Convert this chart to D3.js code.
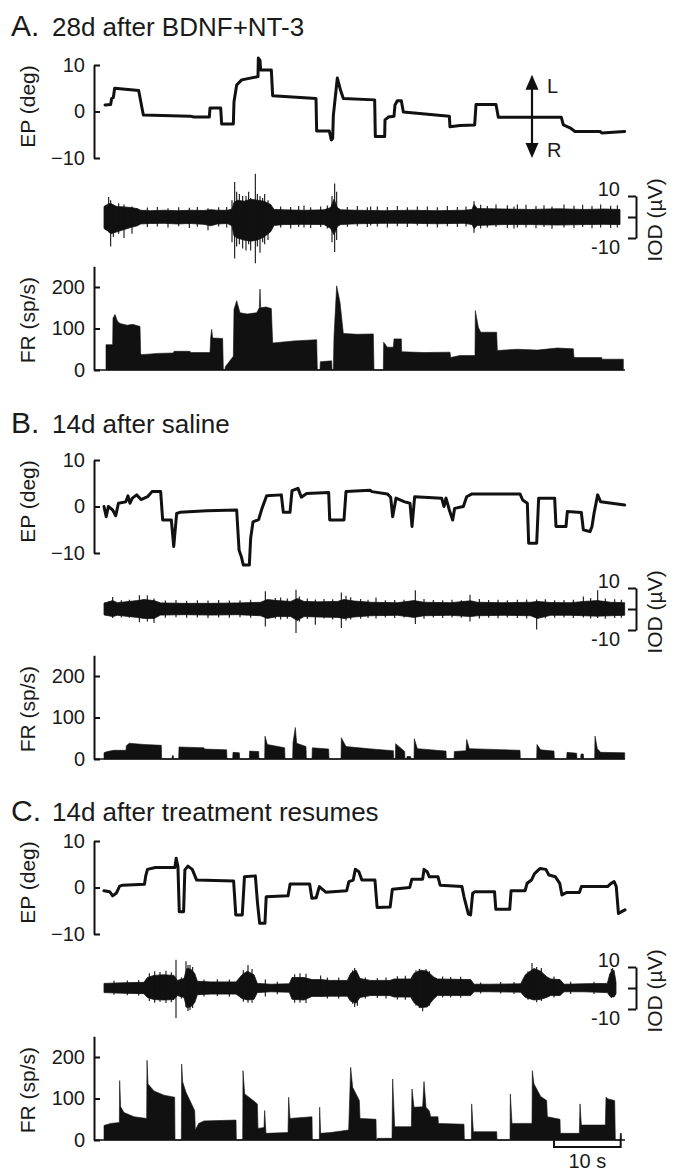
<!DOCTYPE html>
<html><head><meta charset="utf-8">
<script src="https://cdn.jsdelivr.net/npm/d3@7"></script>
<style>
html,body{margin:0;padding:0;background:#fff;}
svg{display:block;}
text{font-family:"Liberation Sans",Arial,Helvetica,sans-serif;fill:#1a1a1a;}
</style></head><body>
<svg id="chart" width="680" height="1174"></svg>
<script>
// ---------------- DATA ----------------
const panelLetters = ["A.", "B.", "C."];
const panelTitles = ["28d after BDNF+NT-3", "14d after saline", "14d after treatment resumes"];
const epTicks = [10, 0, -10];
const epTickLabels = ["10", "0", "\u221210"];
const frTicks = [200, 100, 0];
const frTickLabels = ["200", "100", "0"];
const iodTicks = [10, 0, -10];
const iodTickLabels = ["10", "", "-10"];
const axisTitles = {ep: "EP (deg)", iod: "IOD (\u00b5V)", fr: "FR (sp/s)"};
const timeLabel = "10 s";
const dirLabels = ["L", "R"];

// Eye position traces [time s, deg]
const epA = [[0.15,1.4],[1.0,1.5],[1.15,2.8],[1.4,3.0],[1.6,5.0],[5.2,4.5],[5.9,-0.75],[12.9,-1.0],[13.5,-1.2],[15.8,-1.2],[15.9,0.75],[17.5,0.75],[17.65,-2.7],[19.4,-2.7],[19.5,2.1],[19.9,5.7],[20.65,6.8],[23.1,7.5],[23.15,11.5],[23.4,11.0],[23.5,8.9],[25.1,8.9],[25.3,3.4],[31.8,2.8],[31.9,-4.2],[33.8,-4.2],[34.1,-6.1],[34.3,-5.8],[34.4,-0.9],[35.0,7.2],[35.5,4.5],[35.9,2.8],[40.6,2.5],[40.7,-5.4],[42.1,-5.4],[42.15,-1.8],[42.65,-1.2],[43.5,-1.0],[43.65,1.4],[44.0,2.3],[44.6,2.3],[44.9,-0.1],[51.8,-1.0],[51.9,-3.3],[53.4,-3.0],[55.6,-2.9],[55.8,1.5],[58.8,1.5],[59.15,-1.25],[68.6,-1.25],[68.9,-2.9],[69.9,-3.5],[70.65,-4.3],[74.4,-4.3],[74.65,-4.6],[78.1,-4.3]];
const epB = [[0,0],[0.33,-2.2],[0.65,0],[1.3,-0.75],[1.76,-2.0],[2.16,0.7],[3.27,1.0],[3.6,2.3],[3.9,0.7],[4.25,1.8],[4.9,2.5],[5.56,1.5],[6.54,2.1],[7.2,3.2],[8.5,3.2],[8.8,-2.9],[10.1,-2.9],[10.46,-8.6],[10.9,-1.5],[11.4,-1.25],[15.4,-0.9],[19.9,-0.75],[20.26,-9.4],[20.6,-10.8],[20.9,-12.6],[21.8,-12.6],[22.0,-6.8],[22.35,-3.3],[23.2,-2.8],[23.7,-0.4],[24.4,2.3],[26.6,2.5],[26.9,-1.25],[27.9,-1.25],[28.2,3.4],[29.1,3.9],[29.6,2.0],[30.4,2.8],[33.7,3.0],[33.86,-2.9],[36.0,-2.9],[36.3,3.2],[39.9,3.5],[40.2,3.2],[42.5,2.7],[43.0,2.0],[43.3,-2.2],[43.8,1.8],[45.1,1.0],[45.9,0.7],[46.2,-4.3],[46.6,2.1],[50.65,1.8],[51.0,0],[51.3,1.8],[51.8,-0.75],[52.3,-2.9],[52.6,-0.4],[53.9,0],[54.4,2.1],[55.2,2.7],[62.4,2.7],[62.8,1.4],[63.5,0.7],[63.7,-7.9],[64.9,-7.9],[65.2,1.8],[67.6,1.8],[67.8,-4.3],[69.3,-4.3],[69.5,-1.1],[71.6,-1.3],[71.9,-5.0],[72.9,-5.4],[73.2,-4.3],[73.5,-1.5],[74.05,2.5],[74.5,1.0],[78.1,0.3]];
const epC = [[0,-0.7],[0.85,-0.9],[1.3,-1.8],[1.83,-1.25],[2.35,0.3],[2.8,0.5],[6.07,0.7],[6.26,2.5],[6.52,3.9],[7.7,4.3],[10.63,4.3],[10.83,6.3],[11.09,4.5],[11.29,-5.2],[11.94,-5.2],[12.13,3.8],[12.59,4.6],[13.24,3.9],[13.9,1.6],[19.44,1.4],[19.77,-5.9],[20.74,-5.9],[21.07,2.3],[22.7,2.5],[23.03,-3.4],[23.35,-7.7],[24.14,-7.7],[24.33,-2.0],[27.6,-1.8],[27.92,0.75],[30.85,0.75],[31.18,-2.3],[31.83,-2.2],[32.3,0.2],[32.6,-0.2],[33.27,-1.0],[36.4,-0.7],[36.73,1.25],[37.38,1.6],[37.7,3.9],[38.23,3.4],[38.68,1.6],[40.64,1.6],[40.97,-4.3],[42.92,-4.2],[43.25,-0.4],[45.86,0],[46.18,1.8],[47.8,1.8],[48.0,3.9],[48.47,3.4],[48.8,2.3],[50.1,2.3],[50.42,0.5],[53.69,0.2],[54.0,-2.0],[54.66,-5.7],[54.99,-5.9],[55.3,-1.25],[55.64,-0.9],[58.58,-0.9],[58.77,-4.7],[60.86,-4.7],[61.06,-0.7],[63.15,-0.7],[63.47,0.9],[64.12,1.6],[64.58,3.0],[65.43,4.1],[66.28,3.9],[66.73,2.7],[67.71,2.3],[68.36,0.9],[68.69,-1.6],[69.34,-1.1],[71.3,-1.1],[71.62,0.2],[75.54,0.2],[76.06,0.9],[76.52,1.25],[76.84,0.2],[77.17,-5.6],[77.63,-5.2],[78.15,-4.8]];

// IOD envelope [time s, upper uV, lower uV]
const iodA = [[0,5,-5.5],[0.5,6,-6.5],[1,6.5,-8],[1.5,5.5,-7.5],[2,5,-7],[3,4.8,-6],[4,4.5,-5],[5,4,-4.2],[5.5,3.2,-3.3],[7,3,-3.1],[9,3.2,-3],[11,3,-3.3],[13,3.2,-3.1],[15,3.1,-3.5],[16,3.5,-4.2],[17,3.2,-3.3],[18.5,3.2,-3.1],[19.2,3.8,-4.2],[19.5,7,-9],[20,8,-10],[21,7.5,-11],[22,8.5,-11.5],[23,8,-11],[24,7.5,-9.5],[25,6,-7],[25.5,3.6,-4],[27,3.4,-3.6],[30,3.2,-3.5],[33,3.4,-3.6],[34,4.5,-5.5],[34.5,8.5,-8.5],[35,4.5,-4.5],[35.5,3.4,-3.6],[38,3.2,-3.2],[42,3,-3],[46,3.2,-3],[50,3,-3.2],[54,3.2,-3],[55.2,3.6,-3.6],[55.5,6,-5.5],[56,4,-4],[60,3.8,-3.6],[64,3.6,-3.6],[68,3.9,-3.8],[72,3.6,-3.6],[75,3.8,-3.5],[77.4,3.6,-3.6]];
const iodB = [[0,2.8,-2.8],[1.3,4,-3.6],[2,3,-3],[5,4,-4],[6,4.5,-4.5],[7.5,4,-4.5],[8.5,2.9,-2.9],[12,2.7,-2.7],[16,2.7,-2.9],[20,2.9,-2.7],[23.5,3.2,-3.2],[24.5,4.5,-4.5],[26,4,-3.6],[28,3.6,-3.6],[29,5,-5.5],[30,3.6,-3.6],[32,3.4,-3.8],[35,3.6,-4],[36,4.5,-4.5],[37.5,3.8,-3.8],[40,3.2,-3.2],[44,3,-3],[46.5,4,-4],[48,3.2,-3.2],[52,3,-3],[55,3.9,-3.6],[56,3.2,-3.2],[60,3,-3],[64,3.2,-3.2],[65,3.6,-4.5],[67,3.1,-3],[70,3,-3],[72,3.6,-3.2],[74,4,-3.4],[76,3.2,-3.2],[78.1,3,-3]];
const iodC = [[0,2.2,-2.2],[3,2.5,-2.5],[6,2.7,-2.7],[6.5,5,-4.5],[7.5,6,-5.5],[9,6.3,-5.7],[10.5,6,-5.5],[11,3.6,-3.6],[12,4.5,-4.5],[12.4,9.3,-9.3],[13,9,-9],[13.6,7,-7],[14,3.2,-3.2],[16,2.9,-2.9],[19.8,2.9,-2.9],[20.7,6.3,-5],[21.5,8,-5.7],[22.5,6.3,-5.4],[23,2.2,-2.2],[25,1.8,-1.8],[27.8,2,-2],[28.2,5,-5.4],[30,5,-5.7],[31.2,4,-4],[32.5,4,-4],[34,3.6,-3.9],[36.5,3.6,-3.9],[37,7,-6.3],[37.8,8.5,-7.2],[38.4,4.5,-4.5],[40,3.6,-3.6],[42.9,3.6,-3.6],[43.5,4.3,-4.3],[46,4.3,-4.3],[46.5,7,-7],[47.5,8.5,-9.3],[48.5,8,-9],[49.4,5.4,-5.4],[50,4.3,-3.6],[55,4,-3.6],[55.5,1.8,-1.8],[58,1.8,-1.8],[62.5,2,-2],[63.2,6.3,-4.5],[64.5,9.3,-5.7],[65.5,8,-5.4],[66.4,5.4,-4.5],[67,4.3,-3.6],[68.4,4,-3.6],[69,1.8,-1.8],[72,2,-1.8],[75.5,2.2,-2.2],[75.9,7,-4],[76.5,8.5,-4.3],[76.8,2.7,-2.7]];

// IOD spikes [time s, peak uV, trough uV]
const iodSpikesA = [[0.7,9.5,-5],[1.0,8,-14],[1.4,6,-9.5],[2.2,6.5,-8],[3.0,6,-10],[4.2,5,-8],[6.5,4.5,-4.8],[8.0,4.8,-4.5],[9.6,4.2,-5],[11.2,4.6,-4.4],[12.8,4.4,-5.2],[14.0,4.8,-4.6],[15.6,4.2,-6.3],[17.2,4.6,-4.5],[18.4,4.8,-5],[19.2,8,-12],[19.6,16.7,-19.8],[19.9,12,-14],[20.3,11,-13],[20.8,10,-15],[21.3,10,-16],[21.7,12,-13],[22.0,9,-15.9],[22.7,20.6,-22],[23.0,11,-14],[23.4,10,-17],[23.8,9,-12],[24.1,11,-13],[24.6,8,-11],[26.5,5,-5],[28,4.8,-5.5],[29.2,5.2,-4.8],[30,5.5,-5],[31,4.6,-5.2],[32.5,5,-4.8],[33.5,5.5,-5.5],[34.2,10,-12],[34.6,15.9,-16.7],[34.9,12,-11],[36.5,4.8,-4.6],[38,5.2,-4.4],[39.5,4.6,-4.8],[40,5,-4],[41,5,-4.5],[42.5,4.8,-5],[44,5.2,-4.4],[45.5,4.6,-4.8],[47,5,-4],[48.5,5,-4.6],[50,4.6,-5],[51.5,5.2,-4.4],[53,4.8,-4.8],[54.3,5,-4.5],[55.5,7.5,-7.5],[56.5,5.8,-5.5],[57.5,5.2,-5],[58.8,6,-4.8],[60.5,5.6,-5.2],[61.5,5,-5.5],[62,6,-5],[63.3,5.8,-5],[64.8,5.2,-5.4],[66,5.6,-4.8],[67.2,5,-5.6],[69,6,-5],[70.5,5.4,-5.2],[71.8,5.8,-4.8],[73.2,5.2,-5.4],[74.5,6,-5],[76,5.4,-5.2],[77,5.6,-5]];
const iodSpikesB = [[1.3,5.7,-4.3],[2.6,4.2,-4],[3.8,4.4,-4.2],[5.3,6.5,-6.3],[6.5,6.5,-6],[7.5,5,-6.7],[9.2,4,-4.2],[10.8,4.3,-3.9],[12.4,3.9,-4.2],[14,4.2,-4],[15.6,4,-4.3],[17.2,4.3,-4],[18.8,4,-4.2],[20.4,4.2,-3.9],[22,4.4,-4.2],[24.2,8.4,-8.3],[25.7,5.2,-4.5],[26.5,5.5,-5],[27.5,5,-4.6],[28.8,9.2,-11.4],[29.3,6,-6],[30.5,5,-4.8],[31.7,4.5,-7.5],[33,4.8,-4.5],[34.3,4.6,-5],[35.6,7.9,-9],[36.3,6.3,-5.5],[37,5.6,-5],[38.5,4.8,-4.6],[39.6,4.4,-4.3],[40.8,5.5,-4.5],[42.2,4.2,-4],[43.6,4.3,-4.3],[45,4.4,-4.1],[46.7,8.9,-7.1],[48,4.8,-4.6],[49.4,4.3,-4],[50.8,4.2,-4.3],[52.2,4.4,-4],[53.6,4.2,-4.2],[54.9,6.8,-5.9],[56.3,4.8,-4.5],[57.7,4.3,-4.2],[59.1,4.4,-4.4],[60.5,4.2,-4],[62,4.4,-4.3],[63.4,4.5,-4.5],[64.9,4.5,-9.8],[66.2,4.6,-4.4],[67.6,4.2,-4.2],[69,4.3,-4.1],[70.4,4.4,-4.3],[71.9,6,-4],[73,5.2,-4.5],[74.05,8.9,-4.3],[75.2,5,-4.6],[76.6,4.6,-4.3],[77.6,4.4,-4.2]];
const iodSpikesC = [[1.5,3.4,-3.2],[3.5,3.6,-3.5],[5.2,3.8,-3.6],[6.8,7,-6.2],[7.6,8,-7],[8.4,7.6,-6.5],[9.3,8.2,-7.2],[10.1,7.5,-6.8],[10.8,13.5,-14.3],[11.6,5,-5],[12.3,12.7,-9],[12.6,11,-11],[12.9,11,-10.5],[13.3,10,-9.5],[15,4,-4],[17,4.2,-3.8],[18.8,4,-4.2],[20.9,8.5,-6.5],[21.6,11,-7],[22.2,9,-7],[24.2,4,-4],[26,3,-3],[28.6,6.5,-7],[29.4,7,-7],[30.3,6.8,-7.2],[32.5,6,-4],[33.5,5,-5],[35.2,5,-5],[37.3,8.5,-7.5],[37.6,9.5,-9],[38,7,-8.5],[39.2,5,-5],[41,4.8,-4.8],[42.3,5,-5],[44,5.6,-5.5],[45.2,5.8,-5.6],[46.8,8.5,-8.5],[47.3,9,-9.5],[47.8,8,-11.1],[48.3,9,-8],[48.8,8,-8.5],[50.8,5.5,-4.5],[52,5.2,-4.5],[53.5,5.4,-4.6],[56.5,2.6,-2.6],[59.5,2.8,-2.6],[61.5,2.8,-2.8],[63.6,8,-5.6],[64.2,11.9,-5],[64.9,10,-6.8],[65.6,9.5,-6.2],[67.5,5.5,-4.5],[70,3,-2.8],[73.5,3,-2.8],[76.1,9,-4.8],[76.3,9.5,-4]];

// Firing rate envelopes [time s, sp/s]
const frA = [[0.3,0],[0.3,61],[1.3,61],[1.35,125],[1.65,134],[2.0,118],[2.4,112],[3.5,108],[4.3,110],[5.4,105],[5.5,40],[5.65,37],[8,40],[10.4,41],[10.5,45],[12.9,45],[13.0,42],[15.9,42],[16.0,77],[16.15,98],[16.3,77],[17.8,76],[17.9,0],[18.15,0],[18.2,8],[19.4,33],[19.5,146],[19.9,167],[20.4,138],[21.5,135],[22.9,138],[23.3,150],[23.4,195],[23.5,150],[24.3,152],[25.1,148],[25.3,65],[28.5,70],[31.9,73],[32.0,0],[32.4,0],[32.45,20],[34.15,22],[34.2,0],[34.4,0],[34.5,80],[34.9,203],[35.4,163],[35.9,88],[38,86],[40.4,87],[40.5,0],[41.9,0],[41.95,67],[42.5,55],[43.4,55],[43.5,75],[44.6,75],[44.65,44],[48,42],[51.9,43],[52.0,30],[53.4,35],[55.65,35],[55.7,143],[56.15,103],[56.5,91],[58.9,91],[59.0,47],[62,50],[65,48],[68,53],[70.4,51],[70.5,30],[74.65,30],[74.7,26],[77.9,26],[77.9,0]];
const frB = [[0,0],[0,15],[0.5,18],[1.5,21],[3.3,21],[3.35,32],[3.8,38],[6,35],[8.6,33],[8.65,0],[10.2,0],[10.25,8],[10.4,8],[10.45,0],[11.2,0],[11.25,29],[15,27],[15.05,24],[18.4,22],[18.45,0],[19.3,0],[19.35,16],[20.3,15],[20.35,0],[21.8,0],[21.85,19],[23.2,18],[23.25,0],[24.1,0],[24.15,55],[24.5,35],[27.1,27],[27.15,0],[28.3,0],[28.35,40],[28.7,76],[28.9,38],[30.3,30],[30.35,0],[31.2,0],[31.25,27],[33.7,24],[33.75,0],[35.55,0],[35.6,51],[36.3,30],[40.2,24],[43.4,20],[43.45,0],[43.7,0],[43.75,37],[45.1,18],[45.15,0],[45.4,0],[45.45,6],[46.0,6],[46.05,0],[46.5,0],[46.55,49],[47,25],[51.3,19],[51.35,0],[52.5,0],[52.55,18],[54.3,20],[54.4,47],[54.8,25],[62.4,21],[62.45,0],[64.9,0],[64.95,35],[65.5,22],[67.5,19],[67.55,0],[69.4,0],[69.45,16],[70.9,14],[70.95,0],[71.5,0],[71.55,12],[71.9,12],[71.95,0],[73.6,0],[73.65,55],[74.0,25],[74.5,16],[78.1,15],[78.1,0]];
const frC = [[0,0],[0,35],[1,40],[2.3,42],[2.35,143],[2.5,80],[3,66],[4.5,56],[6.4,52],[6.45,192],[6.6,135],[7.5,118],[9,108],[10.6,103],[10.65,0],[11.6,0],[11.65,183],[11.8,140],[12.3,115],[13.6,71],[13.7,24],[14.2,40],[15,46],[19.8,48],[19.85,0],[20.8,0],[20.85,167],[21.1,111],[22,100],[23,87],[23.1,28],[24,30],[24.1,71],[24.3,16],[27.6,18],[27.7,103],[27.9,52],[31.2,56],[31.25,0],[32.3,0],[32.35,79],[32.5,16],[34,18],[36.7,24],[37.0,175],[37.3,127],[38.3,95],[38.4,52],[40.8,50],[40.85,0],[41.0,0],[41.0,4],[43.2,4],[43.3,147],[43.6,32],[46.1,32],[46.2,123],[46.5,79],[47.8,80],[48.0,141],[48.3,79],[48.8,70],[49,56],[50.1,56],[50.15,40],[54,38],[54.05,0],[55.1,0],[55.15,87],[55.4,20],[58.9,20],[58.95,0],[60.9,0],[60.95,111],[61.2,40],[64.2,40],[64.25,167],[64.5,135],[65.5,105],[66.4,95],[66.5,56],[68.4,50],[68.45,16],[71.3,16],[71.4,87],[71.6,36],[75.2,36],[75.3,103],[75.6,99],[76.6,95],[76.7,0],[77.4,0],[77.45,16],[77.6,16],[77.65,0]];

const timeDomain = [0, 78];
const epDomain = [-10, 10];
const iodDomain = [-10, 10];
const frDomain = [0, 250];
const scaleBarSpan = [67.5, 77.5];   // 10 s
const arrowSpan = [7.9, -10];        // L/R arrow extent (deg)
const arrowTime = 64.2;

// ---------------- LAYOUT ----------------
const svg = d3.select("#chart");
const axisX = 94;
const x = d3.scaleLinear().domain(timeDomain).range([104, 624]);
const layouts = [
  {title: 36,  epTop: 65,  epBot: 158, iod: 217, fr0: 370},
  {title: 433, epTop: 460, epBot: 553, iod: 609, fr0: 759},
  {title: 821, epTop: 841, epBot: 934, iod: 988, fr0: 1140}
];
const epData = [epA, epB, epC];
const iodData = [iodA, iodB, iodC];
const spikeData = [iodSpikesA, iodSpikesB, iodSpikesC];
const frData = [frA, frB, frC];
const iodPxPerUnit = 2.1;
const frPxPer100 = 41.5;
const ink = "#111";

layouts.forEach((L, i) => {
  const g = svg.append("g");
  // title
  g.append("text").attr("x", 11).attr("y", L.title).attr("font-size", 30).text(panelLetters[i]);
  g.append("text").attr("x", 52).attr("y", L.title).attr("font-size", 26).text(panelTitles[i]);

  // ---- EP ----
  const yE = d3.scaleLinear().domain(epDomain).range([L.epBot, L.epTop]);
  const epAxis = g.append("g").attr("transform", `translate(${axisX},0)`)
    .call(d3.axisLeft(yE).tickValues(epTicks).tickSize(-6).tickSizeOuter(0).tickPadding(9)
      .tickFormat((d, k) => epTickLabels[k]));
  styleAxis(epAxis);
  g.append("text").attr("transform", `translate(35,${(L.epTop + L.epBot) / 2 - 5}) rotate(-90)`)
    .attr("text-anchor", "middle").attr("font-size", 21).text(axisTitles.ep);
  g.append("path").datum(epData[i])
    .attr("d", d3.line().x(d => x(d[0])).y(d => yE(d[1])))
    .attr("fill", "none").attr("stroke", ink).attr("stroke-width", 3)
    .attr("stroke-linejoin", "round").attr("stroke-linecap", "round");

  // ---- IOD ----
  const yI = d3.scaleLinear().domain(iodDomain)
    .range([L.iod + 10 * iodPxPerUnit, L.iod - 10 * iodPxPerUnit]);
  g.append("path").datum(iodData[i])
    .attr("d", d3.area().x(d => x(d[0])).y0(d => yI(d[2])).y1(d => yI(d[1])))
    .attr("fill", ink).attr("stroke", ink).attr("stroke-width", 0.8);
  g.selectAll("line.spk").data(spikeData[i]).join("line")
    .attr("class", "spk")
    .attr("x1", d => x(d[0])).attr("x2", d => x(d[0]))
    .attr("y1", d => yI(d[1])).attr("y2", d => yI(d[2]))
    .attr("stroke", ink).attr("stroke-width", 1.1);
  const iodAxis = g.append("g").attr("transform", "translate(636,0)")
    .call(d3.axisLeft(yI).tickValues(iodTicks).tickSize(8).tickSizeOuter(0).tickPadding(8)
      .tickFormat((d, k) => iodTickLabels[k]));
  styleAxis(iodAxis);
  iodAxis.selectAll(".tick text").attr("dy", (d) => d > 0 ? "-0.05em" : "0.75em");
  g.append("text").attr("transform", `translate(662,${L.iod + 3}) rotate(-90)`)
    .attr("text-anchor", "middle").attr("font-size", 21).text(axisTitles.iod);

  // ---- FR ----
  const yF = d3.scaleLinear().domain(frDomain).range([L.fr0, L.fr0 - 2.5 * frPxPer100]);
  g.append("path").datum(frData[i])
    .attr("d", d3.area().x(d => x(d[0])).y0(yF(0)).y1(d => yF(d[1])))
    .attr("fill", ink).attr("stroke", ink).attr("stroke-width", 0.6);
  const frAxis = g.append("g").attr("transform", `translate(${axisX},0)`)
    .call(d3.axisLeft(yF).tickValues(frTicks).tickSize(-6).tickSizeOuter(0).tickPadding(9)
      .tickFormat((d, k) => frTickLabels[k]));
  styleAxis(frAxis);
  g.append("line").attr("x1", axisX).attr("x2", x(timeDomain[1]) + 1)
    .attr("y1", yF(0)).attr("y2", yF(0)).attr("stroke", ink).attr("stroke-width", 1.6);
  g.append("text").attr("transform", `translate(35,${yF(125) + 2}) rotate(-90)`)
    .attr("text-anchor", "middle").attr("font-size", 21).text(axisTitles.fr);

  // L/R arrow on panel A
  if (i === 0) {
    const ax = x(arrowTime), y1 = yE(arrowSpan[0]), y2 = yE(arrowSpan[1]);
    g.append("line").attr("x1", ax).attr("x2", ax).attr("y1", y1 + 10).attr("y2", y2 - 10)
      .attr("stroke", ink).attr("stroke-width", 2.2);
    g.append("path").attr("d", `M${ax},${y1} L${ax - 6.5},${y1 + 15} L${ax + 6.5},${y1 + 15} Z`).attr("fill", ink);
    g.append("path").attr("d", `M${ax},${y2} L${ax - 6.5},${y2 - 15} L${ax + 6.5},${y2 - 15} Z`).attr("fill", ink);
    g.append("text").attr("x", ax + 15).attr("y", y1 + 18).attr("font-size", 20).text(dirLabels[0]);
    g.append("text").attr("x", ax + 15).attr("y", y2 - 1).attr("font-size", 20).text(dirLabels[1]);
  }
  // 10 s scale bar on panel C
  if (i === 2) {
    const sb = yF(0) + 7, xa = x(scaleBarSpan[0]), xb = x(scaleBarSpan[1]);
    g.append("path").attr("d", `M${xa},${sb - 7} V${sb} H${xb} V${sb - 7}`)
      .attr("fill", "none").attr("stroke", ink).attr("stroke-width", 2);
    g.append("text").attr("x", (xa + xb) / 2).attr("y", sb + 21).attr("text-anchor", "middle")
      .attr("font-size", 20).text(timeLabel);
  }
});

function styleAxis(sel) {
  sel.select(".domain").attr("stroke", ink).attr("stroke-width", 2);
  sel.selectAll(".tick line").attr("stroke", ink).attr("stroke-width", 2);
  sel.selectAll(".tick text").attr("font-size", 20).attr("fill", "#1a1a1a")
    .attr("font-family", '"Liberation Sans", Arial, sans-serif');
}
</script></body></html>
